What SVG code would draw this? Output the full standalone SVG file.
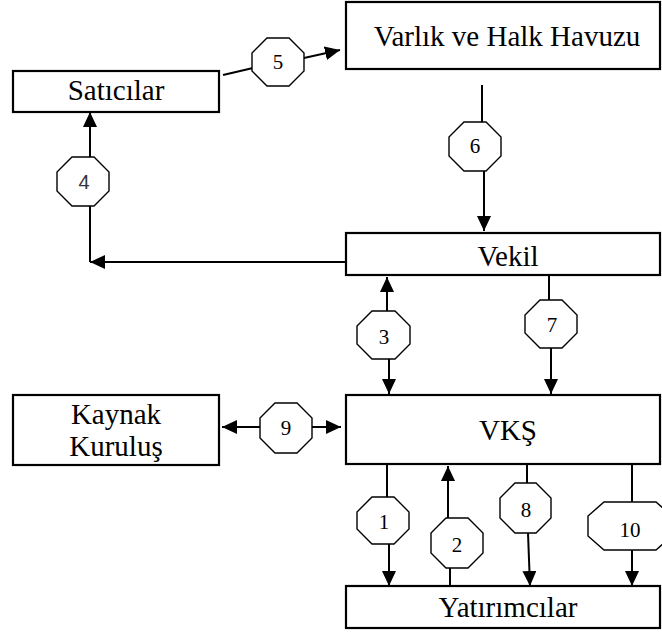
<svg xmlns="http://www.w3.org/2000/svg" width="662" height="632" viewBox="0 0 662 632">
  <style>
    .box { fill: #ffffff; stroke: #000000; stroke-width: 2.2; }
    .lbl { font-family: "Liberation Serif", "Times New Roman", serif; font-size: 29px; fill: #000000; text-anchor: middle; }
    .oct { fill: #ffffff; stroke: #000000; stroke-width: 1.4; }
    .num { font-family: "Liberation Serif", "Times New Roman", serif; font-size: 21px; fill: #000000; text-anchor: middle; }
    .nums { font-family: "Liberation Sans", Arial, sans-serif; font-size: 20px; fill: #333333; text-anchor: middle; }
    .ln { fill: none; stroke: #000000; stroke-width: 2; }
    .arr { fill: none; stroke: #000000; stroke-width: 2; marker-end: url(#head); }
  </style>
  <defs>
    <marker id="head" markerUnits="userSpaceOnUse" markerWidth="15" markerHeight="14" refX="15" refY="7" orient="auto">
      <path d="M0,0 L15,7 L0,14 Z" fill="#000000"/>
    </marker>
  </defs>

  <rect width="662" height="632" fill="#ffffff"/>

  <!-- connectors -->
  <g id="connectors">
    <!-- 5: Satıcılar to pool -->
    <line class="ln" x1="223" y1="75" x2="253" y2="68"/>
    <line class="arr" x1="304" y1="58" x2="340" y2="50"/>
    <!-- 6: pool to Vekil -->
    <line class="ln" x1="482" y1="85" x2="482" y2="122"/>
    <line class="arr" x1="484" y1="171" x2="484" y2="231"/>
    <!-- 4: Vekil back to Satıcılar -->
    <line class="arr" x1="346" y1="262" x2="90" y2="262"/>
    <line class="ln" x1="90" y1="262" x2="90" y2="206"/>
    <line class="arr" x1="90" y1="157" x2="90" y2="112"/>
    <!-- 3: Vekil <-> VKŞ -->
    <line class="arr" x1="387" y1="311" x2="387" y2="277"/>
    <line class="arr" x1="389" y1="359" x2="389" y2="394"/>
    <!-- 7: Vekil to VKŞ -->
    <line class="ln" x1="549" y1="276" x2="549" y2="300"/>
    <line class="arr" x1="551" y1="348" x2="551" y2="394"/>
    <!-- 9: Kaynak Kuruluş <-> VKŞ -->
    <line class="arr" x1="260" y1="427" x2="222" y2="427"/>
    <line class="arr" x1="312" y1="427" x2="341" y2="427"/>
    <!-- 1: VKŞ to investors -->
    <line class="ln" x1="387" y1="465" x2="387" y2="497"/>
    <line class="arr" x1="389" y1="544" x2="389" y2="586"/>
    <!-- 2: investors to VKŞ -->
    <line class="ln" x1="450" y1="586" x2="450" y2="568"/>
    <line class="arr" x1="448" y1="518" x2="448" y2="466"/>
    <!-- 8: VKŞ to investors -->
    <line class="ln" x1="527" y1="465" x2="527" y2="483"/>
    <line class="arr" x1="528" y1="533" x2="530" y2="586"/>
    <!-- 10: VKŞ to investors -->
    <line class="ln" x1="632" y1="465" x2="632" y2="502"/>
    <line class="arr" x1="632" y1="550" x2="632" y2="586"/>
  </g>

  <!-- boxes -->
  <g id="saticilar">
    <rect class="box" x="13" y="71" width="206" height="41"/>
    <text class="lbl" x="116" y="100">Satıcılar</text>
  </g>
  <g id="havuz">
    <rect class="box" x="346" y="2" width="314" height="67"/>
    <text class="lbl" x="507" y="46">Varlık ve Halk Havuzu</text>
  </g>
  <g id="vekil">
    <rect class="box" x="346" y="233" width="314" height="42"/>
    <text class="lbl" x="508" y="266">Vekil</text>
  </g>
  <g id="kaynak">
    <rect class="box" x="13" y="395" width="206" height="70"/>
    <text class="lbl" x="116" y="424">Kaynak</text>
    <text class="lbl" x="116" y="456">Kuruluş</text>
  </g>
  <g id="vks">
    <rect class="box" x="346" y="395" width="314" height="69"/>
    <text class="lbl" x="508" y="440">VKŞ</text>
  </g>
  <g id="yatirimcilar">
    <rect class="box" x="346" y="586" width="314" height="42"/>
    <text class="lbl" x="508" y="617">Yatırımcılar</text>
  </g>

  <!-- numbered steps -->
  <g id="step5">
    <polygon class="oct" points="267,38 289,38 304,53 304,71 289,86 267,86 252,71 252,53"/>
    <text class="num" x="278" y="69">5</text>
  </g>
  <g id="step6">
    <polygon class="oct" points="464,122 486,122 501,137 501,156 486,171 464,171 449,156 449,137"/>
    <text class="num" x="475" y="153">6</text>
  </g>
  <g id="step4">
    <polygon class="oct" points="72,157 94,157 109,172 109,191 94,206 72,206 57,191 57,172"/>
    <text class="nums" x="84" y="189">4</text>
  </g>
  <g id="step3">
    <polygon class="oct" points="372,311 395,311 410,326 410,344 395,359 372,359 357,344 357,326"/>
    <text class="num" x="384" y="344">3</text>
  </g>
  <g id="step7">
    <polygon class="oct" points="540,300 562,300 577,315 577,333 562,348 540,348 525,333 525,315"/>
    <text class="num" x="552" y="332">7</text>
  </g>
  <g id="step9">
    <polygon class="oct" points="275,403 297,403 312,418 312,438 297,453 275,453 260,438 260,418"/>
    <text class="num" x="286" y="435">9</text>
  </g>
  <g id="step1">
    <polygon class="oct" points="372,497 394,497 409,512 409,529 394,544 372,544 357,529 357,512"/>
    <text class="num" x="384" y="529">1</text>
  </g>
  <g id="step2">
    <polygon class="oct" points="446,518 468,518 483,533 483,553 468,568 446,568 431,553 431,533"/>
    <text class="num" x="457" y="552">2</text>
  </g>
  <g id="step8">
    <polygon class="oct" points="515,483 536,483 551,498 551,518 536,533 515,533 500,518 500,498"/>
    <text class="num" x="526" y="517">8</text>
  </g>
  <g id="step10">
    <polygon class="oct" points="604,502 656,502 672,516 672,536 656,550 604,550 588,536 588,516"/>
    <text class="num" x="630" y="537">10</text>
  </g>
</svg>
